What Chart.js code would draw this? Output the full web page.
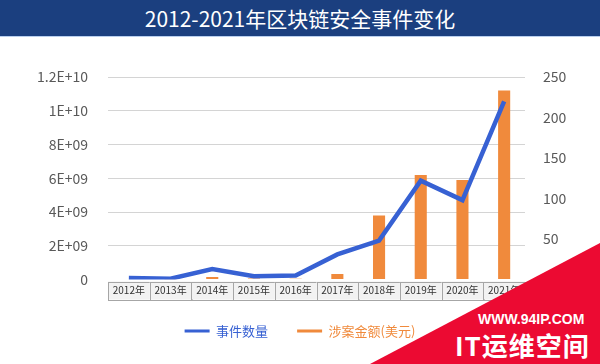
<!DOCTYPE html>
<html>
<head>
<meta charset="utf-8">
<script src="https://cdn.jsdelivr.net/npm/chart.js@4.4.1/dist/chart.umd.min.js"></script>
<style>
  html, body { margin: 0; padding: 0; background: #fff; }
  #wrap { position: relative; width: 600px; height: 364px; overflow: hidden; }
  #title {
    position: absolute; left: 0; top: 0; width: 600px; height: 36px;
    background: #1b3f7f; border-bottom: 1px solid #b9cfee;
    color: #fff; font: 21px "Noto Sans CJK SC", sans-serif;
    text-align: center; line-height: 36px; z-index: 2;
  }
  #mark {
    position: absolute; left: 0; top: 0; width: 600px; height: 364px; z-index: 3;
    background: #ec0a32;
    clip-path: polygon(370px 364px, 600px 243px, 600px 364px);
  }
  #mark .url {
    position: absolute; left: 478px; top: 311px;
    font: bold 14px "Liberation Sans", sans-serif; color: #fff;
  }
  #mark .name {
    position: absolute; left: 455px; top: 326px; letter-spacing: 1px;
    font: bold 26px "Noto Sans CJK SC", sans-serif; color: #fff;
  }
</style>
</head>
<body>
<div id="wrap">
  <div id="title">2012-2021年区块链安全事件变化</div>
  <canvas id="myChart" width="600" height="364"></canvas>
  <div id="mark"><span class="url">WWW.94IP.COM</span><span class="name">IT运维空间</span></div>
</div>
<script>
// data
var years = ['2012年', '2013年', '2014年', '2015年', '2016年', '2017年', '2018年', '2019年', '2020年', '2021年'];
var eventCount = [2, 1, 13, 4, 5, 31, 48, 122, 98, 220];
var amountUsd = [3e7, 1e7, 1.5e8, 6e7, 5e7, 3.3e8, 3.8e9, 6.2e9, 5.9e9, 1.12e10];
var leftTicks = ['0', '2E+09', '4E+09', '6E+09', '8E+09', '1E+10', '1.2E+10'];
var rightTicks = ['0', '50', '100', '150', '200', '250'];

var blue = '#3761d3';
var orange = '#f08a3c';
var font = '"Noto Sans CJK SC", sans-serif';

// grey boxes behind the category labels
var categoryBoxes = {
  id: 'categoryBoxes',
  beforeDraw: function(chart) {
    var x = chart.scales.x;
    var ctx = chart.ctx;
    var half = (x.getPixelForValue(1) - x.getPixelForValue(0)) / 2;
    var top = chart.chartArea.bottom + 2;
    ctx.save();
    ctx.fillStyle = '#f2f2f2';
    ctx.strokeStyle = '#a6a6a6';
    ctx.lineWidth = 1;
    for (var i = 0; i < years.length; i++) {
      var c = x.getPixelForValue(i);
      ctx.fillRect(c - half, top, half * 2, 18);
      ctx.strokeRect(Math.round(c - half) + 0.5, Math.round(top) + 0.5, Math.round(half * 2), 18);
    }
    ctx.restore();
  }
};

var ctx = document.getElementById('myChart').getContext('2d');
var chart = new Chart(ctx, {
  type: 'bar',
  data: {
    labels: years,
    datasets: [{
      type: 'line',
      label: '事件数量',
      data: eventCount,
      borderColor: blue,
      backgroundColor: blue,
      borderWidth: 4.5,
      pointRadius: 0,
      tension: 0,
      yAxisID: 'y1',
      order: 0
    }, {
      label: '涉案金额(美元)',
      data: amountUsd,
      backgroundColor: orange,
      categoryPercentage: 1,
      barPercentage: 0.29,
      yAxisID: 'y',
      order: 1
    }]
  },
  options: {
    responsive: false,
    animation: false,
    layout: { padding: { top: 77, bottom: 16.5, left: 0, right: 0 } },
    plugins: {
      tooltip: { enabled: false },
      legend: {
        position: 'bottom',
        labels: {
          boxWidth: 25,
          boxHeight: 3,
          padding: 29,
          font: { family: font, size: 13 },
          generateLabels: function(chart) {
            return chart.data.datasets.map(function(ds, i) {
              var c = i === 0 ? blue : orange;
              return { text: ds.label, fillStyle: c, strokeStyle: c, lineWidth: 0, fontColor: c, datasetIndex: i };
            });
          }
        }
      }
    },
    scales: {
      x: {
        grid: { display: false, drawTicks: false },
        border: { display: false },
        ticks: { padding: 5, color: '#333', font: { family: font, size: 10 } },
        afterFit: function(s) { s.height = 16; }
      },
      y: {
        position: 'left',
        min: 0,
        max: 1.2e10,
        grid: {
          drawTicks: false,
          color: function(c) { return c.tick && c.tick.value === 0 ? 'rgba(0,0,0,0)' : '#d4d4d4'; }
        },
        border: { display: false },
        ticks: {
          stepSize: 2e9,
          padding: 20,
          color: '#595959',
          font: { family: font, size: 14 },
          callback: function(v, i) { return leftTicks[i]; }
        },
        afterFit: function(s) { s.width = 108; }
      },
      y1: {
        position: 'right',
        min: 0,
        max: 250,
        grid: { display: false, drawTicks: false },
        border: { display: false },
        ticks: {
          stepSize: 50,
          padding: 18,
          color: '#595959',
          font: { family: font, size: 14 },
          callback: function(v, i) { return rightTicks[i]; }
        },
        afterFit: function(s) { s.width = 75; }
      }
    }
  },
  plugins: [categoryBoxes]
});
</script>
</body>
</html>
